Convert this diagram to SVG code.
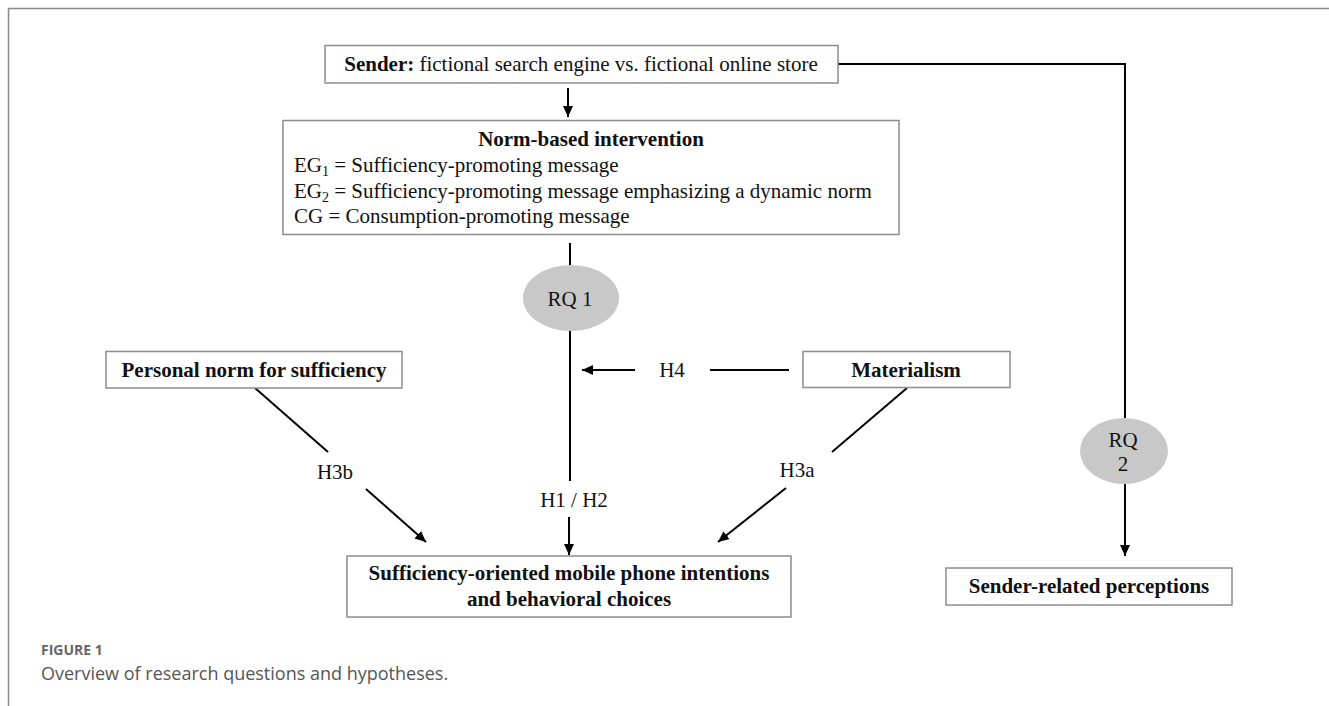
<svg xmlns="http://www.w3.org/2000/svg" width="1329" height="706" viewBox="0 0 1329 706">
<defs>
<marker id="ah" markerUnits="userSpaceOnUse" markerWidth="12" markerHeight="10" refX="11" refY="5" orient="auto">
<path d="M0,0 L11,5 L0,10 Z" fill="#000"/>
</marker>
<style>
.box{fill:#fff;stroke:#8c8c8c;stroke-width:1.5}
.ell{fill:#c8c8c8;stroke:none}
.ln{fill:none;stroke:#000;stroke-width:2}
.t{font-family:"Liberation Serif","Times New Roman",serif;font-size:21px;fill:#111}
.b{font-weight:bold}
.m{text-anchor:middle}
.cap1{font-family:"Open Sans","Liberation Sans",sans-serif;font-size:14px;font-weight:bold;fill:#666}
.cap2{font-family:"Open Sans","Liberation Sans",sans-serif;font-size:18px;fill:#555}
</style>
</defs>
<rect width="1329" height="706" fill="#fff"/>
<path d="M8.5,706 V8.5 H1329" fill="none" stroke="#8a8a8a" stroke-width="1.5"/>

<g id="connectors">
<line class="ln" x1="568" y1="88" x2="568" y2="117" marker-end="url(#ah)"/>
<line class="ln" x1="570" y1="243" x2="570" y2="265"/>
<line class="ln" x1="570" y1="331" x2="570" y2="481"/>
<line class="ln" x1="569" y1="517" x2="569" y2="555" marker-end="url(#ah)"/>
<line class="ln" x1="635" y1="370" x2="582" y2="370" marker-end="url(#ah)"/>
<line class="ln" x1="710" y1="370" x2="789" y2="370"/>
<line class="ln" x1="255" y1="388" x2="328" y2="452"/>
<line class="ln" x1="366" y1="489" x2="426" y2="542" marker-end="url(#ah)"/>
<line class="ln" x1="907" y1="388" x2="832" y2="452"/>
<line class="ln" x1="786" y1="488" x2="718" y2="542" marker-end="url(#ah)"/>
<polyline class="ln" points="838,64 1125,64 1125,418"/>
<line class="ln" x1="1125" y1="484" x2="1125" y2="556" marker-end="url(#ah)"/>
<text class="t" x="672" y="377" text-anchor="middle">H4</text>
<text class="t" x="335" y="479" text-anchor="middle">H3b</text>
<text class="t" x="574" y="507" text-anchor="middle">H1 / H2</text>
<text class="t" x="797" y="477" text-anchor="middle">H3a</text>
</g>

<g id="sender">
<rect class="box" x="325" y="45.5" width="513" height="37.5"/>
<text class="t" x="581" y="71" text-anchor="middle"><tspan class="b">Sender:</tspan> fictional search engine vs. fictional online store</text>
</g>

<g id="norm-intervention">
<rect class="box" x="283" y="120.5" width="616" height="114"/>
<text class="t b m" x="591" y="146">Norm-based intervention</text>
<text class="t" x="294" y="172">EG<tspan font-size="14" dy="4">1</tspan><tspan dy="-4"> = Sufficiency-promoting message</tspan></text>
<text class="t" x="294" y="198">EG<tspan font-size="14" dy="4">2</tspan><tspan dy="-4"> = Sufficiency-promoting message emphasizing a dynamic norm</tspan></text>
<text class="t" x="294" y="223">CG = Consumption-promoting message</text>
</g>

<g id="rq1">
<ellipse class="ell" cx="571" cy="298" rx="48" ry="33"/>
<text class="t m" x="570" y="306">RQ 1</text>
</g>

<g id="personal-norm">
<rect class="box" x="106" y="351.5" width="296" height="36.5"/>
<text class="t b m" x="254" y="377">Personal norm for sufficiency</text>
</g>

<g id="materialism">
<rect class="box" x="803" y="351.5" width="207" height="36"/>
<text class="t b m" x="906" y="377">Materialism</text>
</g>

<g id="rq2">
<ellipse class="ell" cx="1124" cy="451" rx="44" ry="33"/>
<text class="t m" x="1123" y="447">RQ</text>
<text class="t m" x="1123" y="471">2</text>
</g>

<g id="outcome">
<rect class="box" x="347" y="556" width="444" height="61"/>
<text class="t b m" x="569" y="580">Sufficiency-oriented mobile phone intentions</text>
<text class="t b m" x="569" y="606">and behavioral choices</text>
</g>

<g id="sender-perceptions">
<rect class="box" x="946" y="568" width="286" height="37"/>
<text class="t b m" x="1089" y="593">Sender-related perceptions</text>
</g>

<g id="caption">
<text class="cap1" x="41" y="655">FIGURE 1</text>
<text class="cap2" x="41" y="680">Overview of research questions and hypotheses.</text>
</g>
</svg>
